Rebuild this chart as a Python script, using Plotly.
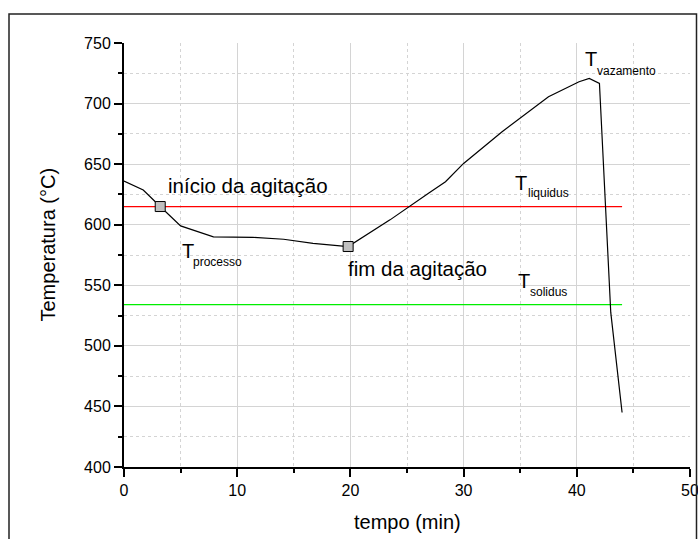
import plotly.graph_objects as go

# ---- data ----
tempo = [0, 1.7, 3.2, 5.0, 7.9, 11.4, 14.1, 16.7, 19.8, 23.5, 26.9, 28.4, 30.0, 33.4, 37.5, 40.2, 41.1, 42.0, 43.0, 44.0]
temperatura = [636, 628.6, 615, 599, 590, 589.6, 588, 584.6, 582, 604, 626, 635.5, 650.6, 676.8, 705.7, 718, 720.8, 716.7, 527.6, 445]
marcas_t = [3.2, 19.8]
marcas_T = [615, 582]
t_liquidus = 615
t_solidus = 534
linha_x = [0, 44]

FONT = "Arial, Liberation Sans, Helvetica, sans-serif"

fig = go.Figure()
fig.add_trace(go.Scatter(x=linha_x, y=[t_liquidus] * 2, mode="lines",
                         line=dict(color="#ff0000", width=1.2), showlegend=False))
fig.add_trace(go.Scatter(x=linha_x, y=[t_solidus] * 2, mode="lines",
                         line=dict(color="#00ee00", width=1.2), showlegend=False))
fig.add_trace(go.Scatter(x=tempo, y=temperatura, mode="lines",
                         line=dict(color="black", width=1.2), showlegend=False))
fig.add_trace(go.Scatter(x=marcas_t, y=marcas_T, mode="markers",
                         marker=dict(symbol="square", size=10, color="#c0c0c0",
                                     line=dict(color="black", width=1)),
                         showlegend=False))

ann = []
def txt(x, y, s, size, xanchor="center"):
    ann.append(dict(x=x, y=y, xref="x", yref="y", text=s, showarrow=False,
                    font=dict(size=size, color="black", family=FONT),
                    xanchor=xanchor, yanchor="middle"))

txt(10.91, 632.0, "início da agitação", 20.5)
txt(25.97, 564.0, "fim da agitação", 20.5)
txt(5.65, 578.0, "T", 20)
txt(8.30, 569.2, "processo", 12)
txt(35.11, 634.8, "T", 20)
txt(37.46, 626.2, "liquidus", 12)
txt(35.34, 553.5, "T", 20)
txt(37.54, 544.5, "solidus", 12)
txt(41.25, 736.8, "T", 20)
txt(44.35, 726.9, "vazamento", 12)

# axis titles
ann.append(dict(x=(47.5 - 124) / 566, y=(467 - 245) / 424, xref="paper", yref="paper",
                text="Temperatura (°C)", textangle=-90, showarrow=False,
                font=dict(size=20, color="black", family=FONT),
                xanchor="center", yanchor="middle"))
ann.append(dict(x=0.5, y=(467 - 522) / 424, xref="paper", yref="paper",
                text="tempo (min)", showarrow=False,
                font=dict(size=20, color="black", family=FONT),
                xanchor="center", yanchor="middle"))

axis_common = dict(
    showline=True, linecolor="black", linewidth=2,
    ticks="outside", ticklen=8, tickwidth=1.5, tickcolor="black",
    showgrid=True, gridcolor="#d4d4d4", gridwidth=1,
    zeroline=False, mirror=False, ticklabeloverflow="allow", automargin=False,
    tickfont=dict(size=16, color="black", family=FONT),
)

fig.update_xaxes(range=[0, 50], dtick=10, tick0=0,
                 minor=dict(dtick=5, ticks="outside", ticklen=4, tickwidth=1.5, tickcolor="black",
                            showgrid=True, gridcolor="#d4d4d4", griddash="dot", gridwidth=1),
                 **axis_common)
fig.update_yaxes(range=[400, 750], dtick=50, tick0=400,
                 minor=dict(dtick=25, ticks="outside", ticklen=4, tickwidth=1.5, tickcolor="black",
                            showgrid=True, gridcolor="#d4d4d4", griddash="dot", gridwidth=1),
                 **axis_common)

fig.update_layout(
    width=698, height=539,
    margin=dict(l=124, r=8, t=43, b=72, autoexpand=False),
    paper_bgcolor="white", plot_bgcolor="white",
    annotations=ann,
    shapes=[dict(type="rect", xref="paper", yref="paper",
                 x0=(9 - 124) / 566, x1=(696.5 - 124) / 566,
                 y0=(467 - 560) / 424, y1=(467 - 14) / 424,
                 line=dict(color="#222222", width=1.5), fillcolor="rgba(0,0,0,0)", layer="above")],
    font=dict(family=FONT),
)

# remove the browser's default 8px page margin so the figure fills the window
fig.write_html("out.html",
               config={"displayModeBar": False},
               post_script="document.body.style.margin='0';document.body.style.overflow='hidden';")
